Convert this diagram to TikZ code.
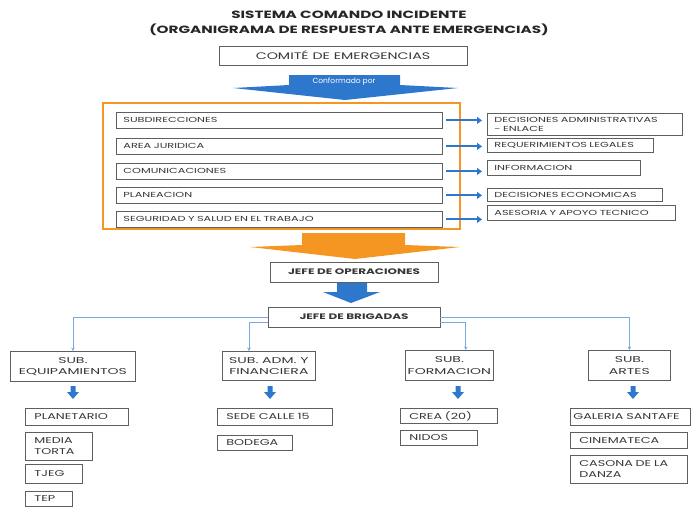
\documentclass[tikz,border=0pt]{standalone}
\usepackage{fontspec}
\setmainfont{Poppins}
\newfontfamily\titleface[FakeStretch=1.45]{Poppins}
\newfontfamily\headface[FakeStretch=1.5]{Poppins}
\newfontfamily\cellface[FakeStretch=1.55]{Poppins}
\newfontfamily\bossface[FakeStretch=1.5]{Poppins}
\newfontfamily\subface[FakeStretch=1.65]{Poppins}
\newfontfamily\leafface[FakeStretch=1.5]{Poppins}
\usetikzlibrary{arrows.meta, positioning}

\definecolor{arrowblue}{RGB}{45,120,205}
\definecolor{linkblue}{RGB}{120,170,225}
\definecolor{frameorange}{RGB}{245,150,35}
\definecolor{boxgray}{RGB}{95,95,95}
\definecolor{inkgray}{RGB}{55,55,55}

\newcommand{\titlefont}{\titleface\fontsize{10.5}{12}\bfseries\selectfont}
\newcommand{\headfont}{\headface\fontsize{9.5}{10}\selectfont}
\newcommand{\cellfont}{\cellface\fontsize{7.3}{8.5}\selectfont}
\newcommand{\bosscellfont}{\bossface\fontsize{8}{9}\bfseries\selectfont}
\newcommand{\subfont}{\subface\fontsize{8.5}{11.5}\selectfont}
\newcommand{\leaffont}{\leafface\fontsize{8.5}{11}\selectfont}

\begin{document}
\begin{tikzpicture}[x=1pt, y=-1pt,
      title/.style = {inner sep=0pt, text=black!85, font=\titlefont},
      cell/.style = {draw=boxgray, line width=.8pt, fill=white, anchor=north west,
                     inner xsep=7pt, inner ysep=0pt, align=left, text=inkgray,
                     font=\cellfont},
      head/.style = {draw=boxgray, line width=.8pt, fill=white, inner sep=0pt,
                     text=inkgray, font=\headfont},
      boss/.style = {head, font=\bosscellfont},
      subbox/.style = {draw=boxgray, line width=.8pt, fill=white, anchor=north west,
                       inner sep=0pt, align=center, text=inkgray, font=\subfont},
      leaf/.style = {cell, inner xsep=9pt, font=\leaffont},
      feed/.style = {arrowblue, line width=2pt, shorten <= 3pt, shorten >= 5pt,
                     arrows={-Triangle[length=5pt, width=7pt]}},
      link/.style = {linkblue, line width=.7pt,
                     arrows={-Stealth[length=3.5pt, width=3.5pt]}},
    ]
    \useasboundingbox (0,0) rectangle (691,507);

    %% Titles and the committee
    \node [title] (t1) at (349,15) {SISTEMA COMANDO INCIDENTE};
    \node [title] (t2) at (349,30) {(ORGANIGRAMA DE RESPUESTA ANTE EMERGENCIAS)};
    \node [head, minimum width=248pt, minimum height=19pt] (comite) at (343,55.5)
      {COMITÉ DE EMERGENCIAS};

    %% ``Conformado por'' block arrow
    \fill [arrowblue] (289,75) -- (400,75) -- (400,85) -- (458,88) -- (345,100)
      -- (233,88) -- (289,85) -- cycle;
    \node [inner sep=0pt, text=white, font=\fontsize{7.5}{8}\selectfont] (conf)
      at (344,81.5) {Conformado por};

    %% Members of the committee
    \draw [frameorange, line width=1.2pt] (103,103) rectangle (460,229);
    \foreach \n/\y/\txt in {1/112/SUBDIRECCIONES, 2/138/AREA JURIDICA,
                            3/163/COMUNICACIONES, 4/187/PLANEACION,
                            5/211/SEGURIDAD Y SALUD EN EL TRABAJO}{%
      \node [cell, text width=312pt, minimum height=16pt] (r\n) at (116,\y) {\txt};
    }

    %% What each one takes care of
    \node [cell, text width=181pt, minimum height=22pt] (o1) at (487,113)
      {DECISIONES ADMINISTRATIVAS\\ - ENLACE};
    \node [cell, text width=152pt, minimum height=14pt] (o2) at (487,138)
      {REQUERIMIENTOS LEGALES};
    \node [cell, text width=139pt, minimum height=15pt] (o3) at (487,160)
      {INFORMACION};
    \node [cell, text width=161pt, minimum height=13pt] (o4) at (487,188)
      {DECISIONES ECONOMICAS};
    \node [cell, text width=174pt, minimum height=15pt] (o5) at (487,205)
      {ASESORIA Y APOYO TECNICO};
    \foreach \n in {1,...,5}{%
      \draw [feed] (r\n.east) -- (r\n.east -| o\n.west);
    }

    %% Orange block arrow down to operations
    \fill [frameorange] (302,233) -- (405,233) -- (405,245) -- (460,247) -- (355,259)
      -- (250,247) -- (302,245) -- cycle;
    \node [boss, minimum width=168pt, minimum height=20pt] (jo) at (354,272)
      {JEFE DE OPERACIONES};
    \fill [arrowblue] (337,283) -- (367,283) -- (367,292) -- (380,292) -- (351,303)
      -- (323,292) -- (337,292) -- cycle;
    \node [boss, minimum width=172pt, minimum height=20pt] (jb) at (354,317)
      {JEFE DE BRIGADAS};

    %% Sub-directions
    \node [subbox, minimum width=125pt, minimum height=30pt] (s1) at (10,351)
      {SUB.\\EQUIPAMIENTOS};
    \node [subbox, minimum width=93pt, minimum height=29pt] (s2) at (222,351)
      {SUB. ADM. Y\\FINANCIERA};
    \node [subbox, minimum width=88pt, minimum height=30pt] (s3) at (405,350)
      {SUB.\\FORMACION};
    \node [subbox, minimum width=82pt, minimum height=30pt] (s4) at (588,350)
      {SUB.\\ARTES};

    \draw [link] (jb.west) -| (s1.north);
    \draw [link] (jb.east) -| (s4.north);
    \draw [link] ([yshift=-5pt] jb.west) -| ([xshift=27pt] s2.north west);
    \draw [link] ([yshift=-5pt] jb.east) -| ([xshift=-28pt] s3.north east);

    \foreach \x in {73,270,458,633}{%
      \fill [arrowblue] (\x-2.5,386) -- (\x+2.5,386) -- (\x+2.5,392) -- (\x+6,392)
        -- (\x,399) -- (\x-6,392) -- (\x-2.5,392) -- cycle;
    }

    %% Sites under each sub-direction
    \node [leaf, text width=85pt, minimum height=17pt] (l11) at (25,408) {PLANETARIO};
    \node [leaf, text width=49pt, minimum height=28pt] (l12) at (25,432) {MEDIA\\TORTA};
    \node [leaf, text width=39pt, minimum height=19pt] (l13) at (25,464) {TJEG};
    \node [leaf, text width=29pt, minimum height=15pt] (l14) at (25,491) {TEP};

    \node [leaf, text width=97pt, minimum height=17pt] (l21) at (217,408) {SEDE CALLE 15};
    \node [leaf, text width=57pt, minimum height=15pt] (l22) at (217,435) {BODEGA};

    \node [leaf, text width=79pt, minimum height=15pt] (l31) at (400,408) {CREA (20)};
    \node [leaf, text width=59pt, minimum height=15pt] (l32) at (400,430) {NIDOS};

    \node [leaf, inner xsep=3pt, text width=114pt, minimum height=17pt] (l41) at (570,408)
      {GALERIA SANTAFE};
    \node [leaf, text width=99pt, minimum height=16pt] (l42) at (570,432) {CINEMATECA};
    \node [leaf, text width=99pt, minimum height=28pt] (l43) at (570,455)
      {CASONA DE LA\\DANZA};
  \end{tikzpicture}
\end{document}
